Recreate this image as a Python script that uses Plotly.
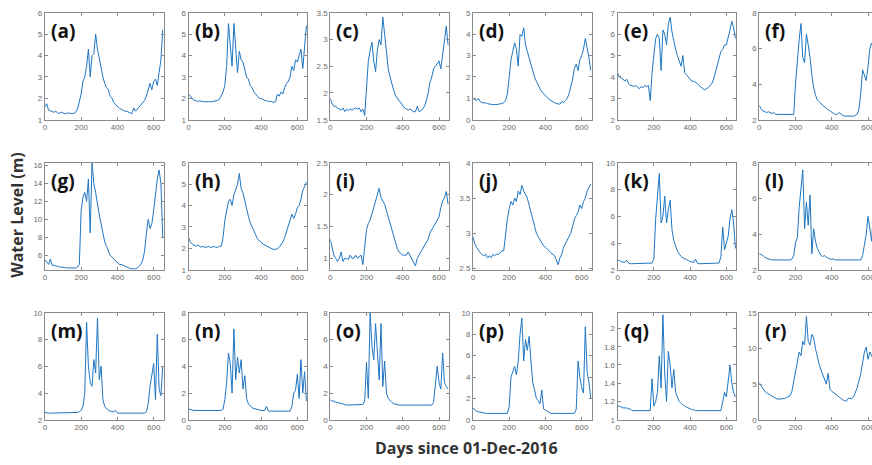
import plotly.graph_objects as go

# Sampling days (every 10 days from 01-Dec-2016)
DAYS = list(range(0, 660, 10))

PANEL_LABELS = ["(a)", "(b)", "(c)", "(d)", "(e)", "(f)",
                "(g)", "(h)", "(i)", "(j)", "(k)", "(l)",
                "(m)", "(n)", "(o)", "(p)", "(q)", "(r)"]

# Water level (m) per station
LEVEL_A = [1.6, 1.75, 1.45, 1.4, 1.38, 1.35, 1.4, 1.32, 1.3, 1.35, 1.3, 1.28, 1.3, 1.32, 1.3, 1.28, 1.3, 1.35, 1.5, 1.8,
           2.2, 2.8, 3.0, 3.5, 4.3, 3.0, 4.0, 4.1, 5.0, 4.3, 3.8, 3.4, 3.0, 2.7, 2.5, 2.4, 2.1, 2.0, 1.8, 1.7,
           1.6, 1.55, 1.5, 1.45, 1.4, 1.4, 1.35, 1.3, 1.28, 1.55, 1.4, 1.5, 1.6, 1.7, 1.8, 1.9, 2.1, 2.4, 2.7, 2.4,
           2.8, 2.9, 2.6, 3.2, 3.8, 5.2]
LEVEL_B = [2.2, 2.1, 2.0, 1.9, 1.9, 1.85, 1.88, 1.85, 1.85, 1.83, 1.85, 1.85, 1.83, 1.85, 1.85, 1.88, 1.9, 1.95, 2.1, 2.3,
           2.6, 3.5, 5.5, 4.6, 3.5, 5.5, 4.5, 3.2, 4.2, 3.8, 3.7, 3.3, 3.0, 2.9, 2.6, 2.5, 2.3, 2.2, 2.1, 2.0,
           2.0, 1.95, 1.9, 1.9, 1.85, 1.85, 1.85, 1.8, 1.85, 2.2, 2.1, 2.3, 2.2, 2.5, 2.7, 2.8, 3.0, 3.5, 3.3, 3.8,
           3.7, 4.0, 4.3, 3.4, 4.6, 5.4]
LEVEL_C = [1.9, 1.8, 1.75, 1.75, 1.72, 1.7, 1.68, 1.72, 1.65, 1.7, 1.67, 1.7, 1.68, 1.7, 1.72, 1.7, 1.72, 1.65, 1.7, 1.58,
           2.2, 2.6, 2.8, 2.95, 2.6, 2.4, 2.8, 3.0, 2.9, 3.42, 3.1, 2.7, 2.45, 2.3, 2.15, 2.05, 1.95, 1.9, 1.85, 1.8,
           1.75, 1.72, 1.7, 1.68, 1.7, 1.67, 1.65, 1.65, 1.75, 1.65, 1.68, 1.7, 1.75, 1.85, 2.0, 2.2, 2.3, 2.45, 2.5, 2.55,
           2.6, 2.45, 2.7, 3.0, 3.25, 2.9]
LEVEL_D = [1.0, 0.95, 0.9, 1.0, 0.85, 0.8, 0.8, 0.78, 0.75, 0.72, 0.72, 0.7, 0.7, 0.72, 0.72, 0.75, 0.75, 0.8, 0.9, 1.2,
           2.0, 2.8, 3.2, 3.6, 3.3, 2.5, 4.0, 3.9, 4.3, 3.5, 3.2, 2.9, 2.5, 2.2, 2.0, 1.8, 1.6, 1.45, 1.3, 1.2,
           1.1, 1.0, 0.95, 0.9, 0.85, 0.8, 0.75, 0.75, 0.72, 0.85, 0.8, 0.9, 1.0, 1.2, 1.5, 1.9, 2.4, 2.6, 2.3, 2.8,
           3.0, 3.3, 3.8, 3.4, 2.9, 2.3]
LEVEL_E = [4.2, 4.0, 3.95, 3.9, 3.8, 3.9, 3.7, 3.6, 3.6, 3.55, 3.6, 3.5, 3.45, 3.55, 3.5, 3.6, 3.55, 3.6, 2.9, 4.2,
           5.0, 5.8, 6.0, 5.8, 4.3, 6.2, 6.0, 5.5, 6.5, 6.8, 6.1, 5.6, 5.3, 5.0, 4.7, 4.5, 5.0, 4.2, 4.1, 4.0,
           3.9, 3.8, 3.8, 3.75, 3.7, 3.6, 3.5, 3.45, 3.4, 3.45, 3.5, 3.6, 3.7, 3.9, 4.2, 4.5, 4.8, 5.2, 5.3, 5.5,
           5.5, 5.8, 6.2, 6.6, 6.3, 5.8]
LEVEL_F = [2.8, 2.6, 2.5, 2.45, 2.4, 2.45, 2.4, 2.35, 2.4, 2.3, 2.3, 2.3, 2.28, 2.3, 2.28, 2.3, 2.28, 2.3, 2.3, 2.3,
           4.0, 5.5, 6.5, 7.4, 5.5, 5.2, 6.8, 6.2, 5.5, 4.5, 3.8, 3.4, 3.1, 3.0, 2.9, 2.8, 2.7, 2.6, 2.55, 2.5,
           2.4, 2.35, 2.3, 2.3, 2.4, 2.3, 2.25, 2.2, 2.2, 2.2, 2.2, 2.2, 2.2, 2.25, 2.3, 2.6, 3.5, 4.8, 4.5, 4.2,
           5.0, 6.0, 6.3, 6.0, 5.5, 5.0]
LEVEL_G = [5.5, 5.2, 5.0, 5.6, 4.9, 4.9, 4.8, 4.8, 4.7, 4.7, 4.7, 4.65, 4.6, 4.6, 4.6, 4.6, 4.6, 4.6, 4.7, 5.0,
           11.0, 12.5, 13.0, 12.0, 14.5, 8.5, 16.3, 14.0, 13.0, 11.5, 10.5, 9.5, 8.5, 7.5, 7.0, 6.5, 6.0, 5.8, 5.6, 5.4,
           5.2, 5.0, 5.0, 4.9, 4.8, 4.7, 4.6, 4.55, 4.5, 4.5, 4.5, 4.6, 4.8, 5.0, 5.5, 6.5, 8.5, 10.0, 9.0, 9.5,
           11.0, 13.0, 14.5, 15.5, 14.0, 8.0]
LEVEL_H = [2.5, 2.3, 2.2, 2.15, 2.1, 2.15, 2.1, 2.05, 2.1, 2.05, 2.05, 2.1, 2.05, 2.05, 2.1, 2.05, 2.05, 2.1, 2.1, 2.5,
           3.3, 3.8, 4.2, 4.3, 4.0, 4.5, 4.8, 5.0, 5.5, 4.8, 4.6, 4.2, 3.8, 3.5, 3.2, 3.0, 2.8, 2.6, 2.45, 2.35,
           2.3, 2.2, 2.15, 2.1, 2.05, 2.0, 1.98, 1.95, 1.95, 1.98, 2.05, 2.15, 2.3, 2.5, 2.8, 3.0, 3.3, 3.6, 3.4, 3.6,
           3.9, 4.0, 4.3, 4.7, 4.9, 5.1]
LEVEL_I = [1.3, 1.15, 1.05, 1.0, 0.95, 1.0, 1.1, 0.95, 1.0, 1.0, 0.98, 1.05, 1.0, 1.0, 1.05, 1.0, 1.02, 1.05, 0.9, 1.2,
           1.45, 1.55, 1.6, 1.7, 1.8, 1.9, 2.0, 2.1, 1.95, 1.9, 1.85, 1.75, 1.65, 1.55, 1.45, 1.35, 1.25, 1.15, 1.1, 1.08,
           1.05, 1.05, 1.05, 1.1, 1.05, 1.0, 0.95, 0.88, 1.0, 1.05, 1.1, 1.15, 1.2, 1.25, 1.3, 1.4, 1.45, 1.5, 1.55, 1.6,
           1.65, 1.8, 1.9, 1.95, 2.05, 1.85]
LEVEL_J = [2.95, 2.85, 2.8, 2.75, 2.72, 2.7, 2.68, 2.7, 2.65, 2.68, 2.65, 2.7, 2.68, 2.7, 2.7, 2.72, 2.75, 2.75, 3.0, 3.2,
           3.35, 3.45, 3.4, 3.5, 3.45, 3.6, 3.55, 3.68, 3.6, 3.55, 3.5, 3.4, 3.3, 3.2, 3.1, 3.0, 2.95, 2.9, 2.85, 2.82,
           2.8, 2.78, 2.75, 2.72, 2.7, 2.68, 2.62, 2.55, 2.65, 2.7, 2.8, 2.85, 2.9, 2.95, 3.0, 3.1, 3.2, 3.25, 3.3, 3.4,
           3.35, 3.45, 3.5, 3.6, 3.65, 3.7]
LEVEL_K = [2.7, 2.7, 2.6, 2.6, 2.55, 2.7, 2.5, 2.45, 2.45, 2.45, 2.45, 2.45, 2.45, 2.45, 2.45, 2.45, 2.45, 2.5, 2.45, 2.5,
           2.8, 5.8, 7.5, 9.2, 5.5, 6.0, 7.5, 5.5, 6.5, 7.2, 5.0, 4.2, 3.8, 3.4, 3.2, 3.0, 2.9, 2.8, 2.75, 2.7,
           2.6, 2.6, 2.55, 2.8, 2.5, 2.45, 2.45, 2.45, 2.45, 2.45, 2.45, 2.45, 2.45, 2.45, 2.45, 2.45, 2.5, 3.0, 5.2, 3.5,
           4.0, 4.5, 5.8, 6.5, 5.5, 3.6]
LEVEL_L = [2.9, 2.85, 2.8, 2.7, 2.65, 2.6, 2.6, 2.55, 2.55, 2.55, 2.55, 2.55, 2.55, 2.55, 2.55, 2.55, 2.55, 2.55, 2.6, 2.8,
           3.5, 3.8, 5.5, 6.6, 7.6, 4.3, 5.8, 4.5, 6.2, 2.9, 4.3, 3.6, 3.2, 3.0, 2.8, 2.75, 2.8, 2.7, 2.65, 2.6,
           2.6, 2.6, 2.55, 2.55, 2.55, 2.55, 2.55, 2.55, 2.55, 2.55, 2.55, 2.55, 2.55, 2.55, 2.55, 2.55, 2.55, 2.8, 3.5, 4.0,
           5.0, 4.2, 3.6, 5.4, 4.2, 4.0]
LEVEL_M = [2.55, 2.5, 2.5, 2.5, 2.5, 2.5, 2.5, 2.5, 2.5, 2.5, 2.5, 2.5, 2.5, 2.5, 2.5, 2.5, 2.5, 2.5, 2.55, 2.6,
           2.7, 3.0, 4.0, 9.3, 6.0, 4.8, 4.5, 6.5, 5.5, 9.6, 5.0, 6.0, 3.5, 3.0, 2.8, 2.7, 2.65, 2.6, 2.6, 2.7,
           2.5, 2.5, 2.5, 2.5, 2.5, 2.5, 2.5, 2.5, 2.5, 2.5, 2.5, 2.5, 2.5, 2.5, 2.5, 2.5, 2.6, 3.2, 4.5, 5.5,
           6.2, 3.5, 8.4, 4.3, 3.8, 6.0]
LEVEL_N = [0.8, 0.75, 0.7, 0.7, 0.7, 0.7, 0.7, 0.7, 0.7, 0.7, 0.7, 0.7, 0.7, 0.7, 0.7, 0.7, 0.7, 0.7, 0.7, 0.8,
           1.5, 2.8, 5.0, 4.2, 2.0, 6.8, 3.0, 4.7, 3.5, 4.5, 2.3, 3.3, 1.6, 1.2, 1.0, 0.9, 0.85, 0.8, 0.75, 0.7,
           0.7, 0.7, 0.7, 1.0, 0.65, 0.65, 0.65, 0.65, 0.65, 0.65, 0.65, 0.65, 0.65, 0.65, 0.65, 0.65, 0.65, 1.0, 2.0, 2.2,
           3.4, 1.6, 4.5, 2.0, 3.6, 1.4]
LEVEL_O = [1.5, 1.4, 1.4, 1.3, 1.3, 1.25, 1.2, 1.15, 1.15, 1.1, 1.1, 1.1, 1.1, 1.1, 1.1, 1.1, 1.1, 1.1, 1.15, 1.4,
           4.3, 1.6, 8.0, 5.5, 4.5, 7.2, 5.0, 3.0, 7.2, 2.5, 4.4, 2.0, 1.6, 1.4, 1.3, 1.2, 1.15, 1.1, 1.1, 1.1,
           1.1, 1.1, 1.1, 1.1, 1.1, 1.1, 1.1, 1.1, 1.1, 1.1, 1.1, 1.1, 1.1, 1.1, 1.1, 1.1, 1.1, 1.3, 3.0, 4.0,
           2.8, 2.3, 5.0, 2.8, 2.5, 2.3]
LEVEL_P = [1.1, 0.9, 0.8, 0.75, 0.7, 0.65, 0.6, 0.6, 0.6, 0.6, 0.6, 0.6, 0.6, 0.6, 0.6, 0.6, 0.6, 0.6, 0.6, 0.6,
           1.2, 4.0, 4.5, 5.0, 4.2, 5.5, 8.0, 9.5, 5.5, 7.5, 6.5, 7.8, 5.5, 3.5, 2.8, 2.0, 1.8, 1.5, 2.8, 1.0,
           0.9, 0.8, 0.75, 0.6, 0.6, 0.6, 0.6, 0.6, 0.6, 0.6, 0.6, 0.6, 0.6, 0.6, 0.6, 0.6, 0.6, 1.0, 5.5, 4.0,
           3.0, 2.5, 8.7, 4.5, 3.5, 2.0]
LEVEL_Q = [1.15, 1.15, 1.14, 1.13, 1.13, 1.13, 1.12, 1.12, 1.1, 1.1, 1.1, 1.1, 1.1, 1.1, 1.1, 1.1, 1.1, 1.1, 1.1, 1.45,
           1.15, 1.2, 1.3, 1.7, 1.35, 2.15, 1.5, 1.2, 1.75, 1.6, 1.35, 1.55, 1.3, 1.25, 1.2, 1.18, 1.16, 1.15, 1.14, 1.13,
           1.12, 1.11, 1.11, 1.1, 1.1, 1.1, 1.1, 1.1, 1.1, 1.1, 1.1, 1.1, 1.1, 1.1, 1.1, 1.1, 1.1, 1.1, 1.2, 1.3,
           1.25, 1.4, 1.6, 1.4, 1.3, 1.25]
LEVEL_R = [5.2, 4.8, 4.4, 4.0, 3.8, 3.6, 3.5, 3.3, 3.2, 3.0, 2.9, 2.9, 2.9, 3.0, 3.0, 3.1, 3.2, 3.4, 4.0, 5.5,
           7.0, 8.5, 9.5, 9.0, 11.0, 10.5, 14.5, 11.0, 10.5, 12.0, 11.5, 10.0, 8.8, 7.8, 7.0, 6.3, 5.5, 5.0, 6.5, 4.3,
           4.0, 3.8, 3.5, 3.3, 3.2, 3.0, 2.8, 2.7, 2.6, 3.0, 3.0, 3.0, 3.2, 3.8, 4.5, 5.5, 6.5, 8.0, 9.5, 10.2,
           8.5, 9.5, 9.0, 8.5, 8.0, 7.5]

LEVELS = [LEVEL_A, LEVEL_B, LEVEL_C, LEVEL_D, LEVEL_E, LEVEL_F,
          LEVEL_G, LEVEL_H, LEVEL_I, LEVEL_J, LEVEL_K, LEVEL_L,
          LEVEL_M, LEVEL_N, LEVEL_O, LEVEL_P, LEVEL_Q, LEVEL_R]

# y-axis ranges and tick steps per panel
Y_RANGES = [(1, 6), (1, 6), (1.5, 3.5), (0, 5), (2, 7), (2, 8),
            (4.4, 16.3), (1, 6), (0.82, 2.5), (2.48, 4), (2, 10), (2, 8),
            (2, 10), (0, 8), (0, 8), (0, 10), (1, 2.17), (0, 15)]
Y_DTICKS = [1, 1, 0.5, 1, 1, 2,
            2, 1, 0.5, 0.5, 2, 2,
            2, 2, 2, 2, 0.2, 5]
Y_TICK0 = [1, 1, 1.5, 0, 2, 2,
           6, 1, 1, 2.5, 2, 2,
           2, 0, 0, 0, 1, 0]

X_TICKS = [0, 200, 400, 600]

# The figure runs a few pixels past the 872px view on the right
W, H = 882, 465
COL_LEFT = [43, 187, 329, 472, 617, 759]
ROW_TOP = [9, 162, 315]
BOX_W, BOX_H = 119, 109
X_MAX = 655

LINE_BLUE = "#1f76c2"
AXIS_GRAY = "#8a8a8a"
TICK_FONT = dict(family="Liberation Sans, Arial", size=8, color="#6a6a6a")
TITLE_FONT = "Open Sans, Liberation Sans"

fig = go.Figure()
layout = {}
annotations = []

for i in range(18):
    r, c = divmod(i, 6)
    n = i + 1
    xs = "" if n == 1 else str(n)
    left = COL_LEFT[c]
    right = left + BOX_W
    top = ROW_TOP[r]
    bottom = top + BOX_H

    fig.add_trace(go.Scatter(
        x=DAYS, y=LEVELS[i], mode="lines",
        line=dict(color=LINE_BLUE, width=1),
        xaxis="x" + xs, yaxis="y" + xs, showlegend=False, hoverinfo="skip",
    ))

    layout["xaxis" + xs] = dict(
        domain=[left / W, right / W], anchor="y" + xs,
        range=[0, X_MAX], tickvals=X_TICKS,
        showgrid=False, zeroline=False,
        showline=True, linecolor=AXIS_GRAY, linewidth=1, mirror="ticks",
        ticks="inside", ticklen=3, tickcolor=AXIS_GRAY,
        tickfont=TICK_FONT, fixedrange=True,
    )
    layout["yaxis" + xs] = dict(
        domain=[1 - bottom / H, 1 - top / H], anchor="x" + xs,
        range=list(Y_RANGES[i]), tick0=Y_TICK0[i], dtick=Y_DTICKS[i],
        showgrid=False, zeroline=False,
        showline=True, linecolor=AXIS_GRAY, linewidth=1, mirror="ticks",
        ticks="inside", ticklen=3, tickcolor=AXIS_GRAY,
        tickfont=TICK_FONT, fixedrange=True,
    )

    annotations.append(dict(
        text="<b>" + PANEL_LABELS[i] + "</b>",
        xref="x" + xs + " domain", yref="y" + xs + " domain",
        x=0.035, y=0.83, xanchor="left", yanchor="middle",
        showarrow=False,
        font=dict(family=TITLE_FONT, size=19, color="#111111"),
    ))

annotations.append(dict(
    text="<b>Water Level (m)</b>", textangle=-90,
    xref="paper", yref="paper", x=15 / W, y=1 - 215 / H,
    xanchor="center", yanchor="middle", showarrow=False,
    font=dict(family=TITLE_FONT, size=16, color="#333333"),
))
annotations.append(dict(
    text="<b>Days since 01-Dec-2016</b>",
    xref="paper", yref="paper", x=466 / W, y=1 - 453 / H,
    xanchor="center", yanchor="middle", showarrow=False,
    font=dict(family=TITLE_FONT, size=16, color="#333333"),
))

fig.update_layout(
    width=W, height=H,
    margin=dict(l=0, r=0, t=0, b=0),
    paper_bgcolor="white", plot_bgcolor="white",
    annotations=annotations,
    **layout,
)

fig.write_html(
    "out.html",
    post_script="document.documentElement.style.overflow='hidden';"
                "document.body.style.overflow='hidden';document.body.style.margin='0';",
)
